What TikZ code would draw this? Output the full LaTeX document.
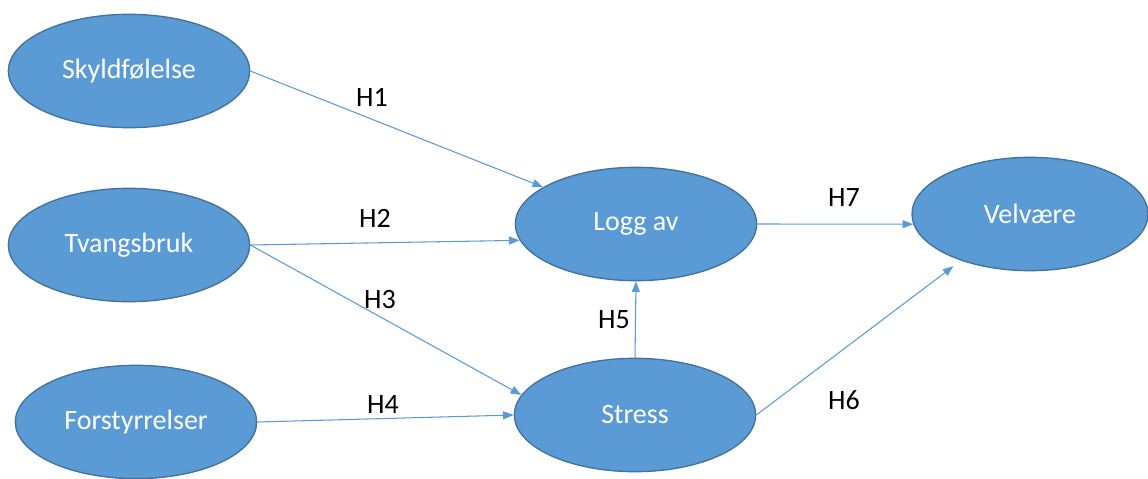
\documentclass[tikz,border=0pt]{standalone}
\usepackage{fontspec}
\setmainfont{Carlito}
\usepackage{xcolor}
\usetikzlibrary{shapes.geometric,arrows.meta,positioning}
\definecolor{ellfill}{HTML}{5B9BD5}
\definecolor{ellline}{HTML}{41719C}
\definecolor{arrline}{HTML}{5B9BD5}

\begin{document}
\begin{tikzpicture}[x=0.75pt,y=-0.75pt,
    konstrukt/.style={ellipse,draw=ellline,fill=ellfill,line width=1pt,
      minimum width=181pt,minimum height=85pt,inner sep=0pt,
      text=white,font=\fontsize{21}{25}\selectfont},
    hyp/.style={text=black,font=\fontsize{21}{25}\selectfont,inner sep=0pt},
    pil/.style={draw=arrline,line width=0.8pt,
      -{Triangle[length=8pt,width=6pt]}}]
  \useasboundingbox (0,0) rectangle (1148,478);
  % konstrukter
  \node[konstrukt] (skyld)  at (129,71)  {Skyldfølelse};
  \node[konstrukt] (tvang)  at (129,245) {Tvangsbruk};
  \node[konstrukt] (forst)  at (136,422) {Forstyrrelser};
  \node[konstrukt] (logg)   at (636,224) {Logg av};
  \node[konstrukt] (stress) at (635,415) {Stress};
  \node[konstrukt,minimum width=177pt] (velv) at (1030,214) {Velvære};
  % hypoteser
  \node[hyp] (h1) at (372,97)  {H1};
  \node[hyp] (h2) at (375,218) {H2};
  \node[hyp] (h3) at (380,300) {H3};
  \node[hyp] (h4) at (383,405) {H4};
  \node[hyp] (h5) at (614,320) {H5};
  \node[hyp] (h6) at (844,400) {H6};
  \node[hyp] (h7) at (844,198) {H7};
  % piler
  \draw[pil] (skyld.east) -- (logg);
  \draw[pil] (tvang.east) -- (logg.188);
  \draw[pil] (tvang.east) -- (stress.170);
  \draw[pil] (forst.east) -- (stress.west);
  \draw[pil] (stress.north) -- (logg.south);
  \draw[pil] (logg.east) -- (velv.185);
  \draw[pil,shorten >=7pt] (stress.east) -- (velv.214);
\end{tikzpicture}
\end{document}
